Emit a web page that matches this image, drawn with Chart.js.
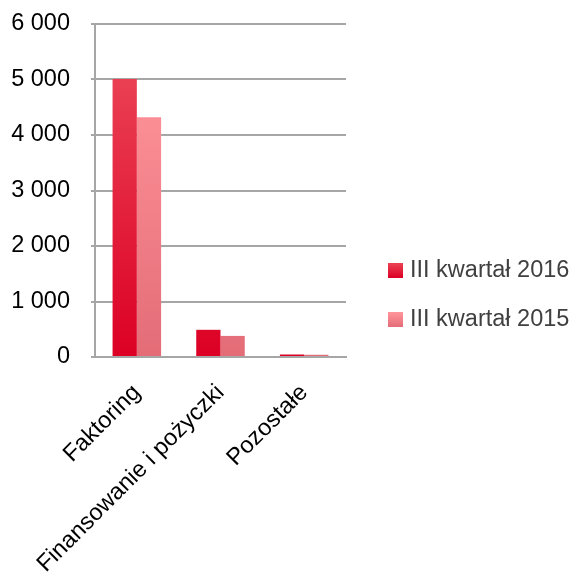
<!DOCTYPE html>
<html>
<head>
<meta charset="utf-8">
<script src="https://cdn.jsdelivr.net/npm/chart.js@4/dist/chart.umd.min.js"></script>
<style>
  html, body { margin: 0; padding: 0; background: #fff; }
  #wrap { width: 579px; height: 572px; }
</style>
</head>
<body>
<div id="wrap"><canvas id="myChart" width="579" height="572"></canvas></div>
<script>
var categories = ["Faktoring", "Finansowanie i pożyczki", "Pozostałe"];
var series2016 = [5010, 490, 45];
var series2015 = [4320, 380, 40];
var seriesNames = ["III kwartał 2016", "III kwartał 2015"];
var yTicks = [0, 1000, 2000, 3000, 4000, 5000, 6000];
var colors2016 = ["#ea3f52", "#dc0024"];
var colors2015 = ["#ff939a", "#e36c77"];

function grad(cols) {
  return function (c) {
    var area = c.chart.chartArea;
    if (!area) return cols[1];
    var g = c.chart.ctx.createLinearGradient(0, area.top + 55, 0, area.bottom);
    g.addColorStop(0, cols[0]);
    g.addColorStop(1, cols[1]);
    return g;
  };
}

function fmt(v) {
  return String(v).replace(/\B(?=(\d{3})+(?!\d))/g, ' ');
}

// legend drawn by hand, placed like in the original (right side, wide gap)
var sideLegend = {
  id: 'sideLegend',
  afterDraw: function (chart) {
    var c = chart.ctx;
    var rows = [271, 320];
    var sets = [colors2016, colors2015];
    c.save();
    chart.data.datasets.forEach(function (ds, i) {
      var y = rows[i];
      var g = c.createLinearGradient(0, y - 7, 0, y + 7);
      g.addColorStop(0, sets[i][0]);
      g.addColorStop(1, sets[i][1]);
      c.fillStyle = g;
      c.fillRect(388, y - 8, 15, 15);
      c.fillStyle = '#404040';
      c.font = '23.5px "Liberation Sans"';
      c.textBaseline = 'middle';
      c.textAlign = 'left';
      c.fillText(ds.label, 410, y);
    });
    c.restore();
  }
};

var ctx = document.getElementById("myChart").getContext('2d');
var myChart = new Chart(ctx, {
  type: 'bar',
  data: {
    labels: categories,
    datasets: [{
      label: seriesNames[0],
      data: series2016,
      backgroundColor: grad(colors2016),
      categoryPercentage: 0.58,
      barPercentage: 1.0
    }, {
      label: seriesNames[1],
      data: series2015,
      backgroundColor: grad(colors2015),
      categoryPercentage: 0.58,
      barPercentage: 1.0
    }]
  },
  plugins: [sideLegend],
  options: {
    responsive: false,
    animation: false,
    devicePixelRatio: 1,
    layout: { padding: { top: 0, left: 0, right: 233 } },
    plugins: {
      tooltip: { enabled: false },
      legend: { display: false }
    },
    scales: {
      x: {
        grid: { display: false },
        border: { color: '#a6a6a6', width: 2 },
        ticks: {
          color: '#000',
          minRotation: 45,
          maxRotation: 45,
          padding: 14,
          font: { family: 'Liberation Sans', size: 23.5 }
        },
        afterFit: function (s) { s.height = 215; }
      },
      y: {
        min: 0,
        max: 6000,
        afterBuildTicks: function (s) { s.ticks = yTicks.map(function (v) { return { value: v }; }); },
        grid: { color: '#a6a6a6', lineWidth: 2, tickLength: 4, drawTicks: true },
        border: { color: '#a6a6a6', width: 2 },
        ticks: {
          color: '#000',
          padding: 21,
          font: { family: 'Liberation Sans', size: 23.5 },
          callback: function (v) { return fmt(v); }
        },
        afterFit: function (s) { s.width = 95; s.paddingTop = 24; s.paddingBottom = 0; }
      }
    }
  }
});
</script>
</body>
</html>
